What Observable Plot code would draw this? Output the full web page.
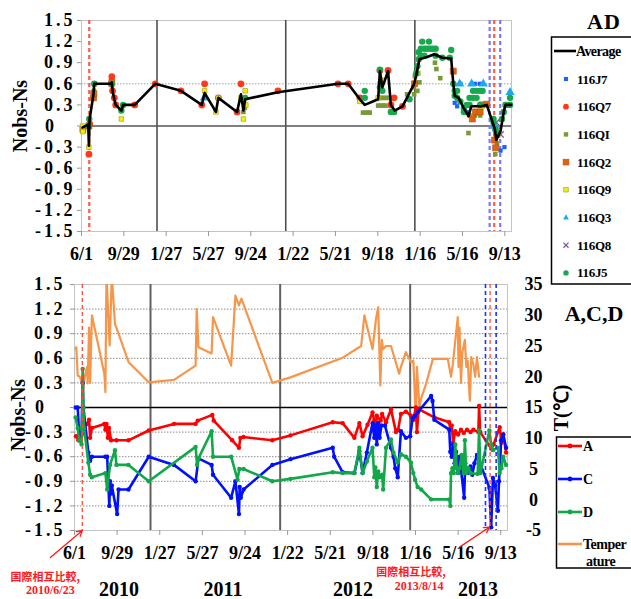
<!DOCTYPE html>
<html>
<head>
<meta charset="utf-8">
<script src="https://cdn.jsdelivr.net/npm/d3@7"></script>
<script src="https://cdn.jsdelivr.net/npm/@observablehq/plot@0.6"></script>
<style>
  body { margin: 0; background: #fff; }
  #wrap { position: relative; width: 631px; height: 599px; overflow: hidden; }
  #wrap > svg { position: absolute; left: 0; margin: 0; }
  #top { top: 0; }
  #bottom { top: 270px; }
  #top, #bottom { font-family: "Liberation Serif", "Times New Roman", serif; font-weight: bold; font-size: 18px; background: transparent; overflow: visible; }
  g[aria-label="y-axis tick label"][text-anchor="end"] text { letter-spacing: 3px; }
</style>
</head>
<body>
<div id="wrap"></div>
<script>
// ---- axis ticks -------------------------------------------------------
const xTickDates = ["2010-06-01","2010-09-29","2011-01-27","2011-05-27","2011-09-24","2012-01-22",
                    "2012-05-21","2012-09-18","2013-01-16","2013-05-16","2013-09-13"];
const yTicks = [1.5, 1.2, 0.9, 0.6, 0.3, 0, -0.3, -0.6, -0.9, -1.2, -1.5];
const tempTicks = [35, 30, 25, 20, 15, 10, 5, 0, -5];
const xDomain = ["2010-06-01", "2013-10-02"];

// ---- reference dates --------------------------------------------------
const yearStarts = ["2011-01-01", "2012-01-01", "2013-01-01"];
const compareDates = ["2010-06-23", "2013-08-14"];
const windowDates = ["2013-08-01", "2013-08-31"];
const yearLabels = [["2010-10-04","2010"],["2011-07-24","2011"],["2012-07-24","2012"],["2013-07-11","2013"]];

// ---- AD: average and per-instrument Nobs-Ns ---------------------------
const avgAD = [["2010-06-04",-0.02],["2010-06-20",0.02],["2010-06-22",-0.28],["2010-06-24",0.10],["2010-07-05",0.45],
  ["2010-07-07",0.60],["2010-08-24",0.60],["2010-08-26",0.62],["2010-08-28",0.50],["2010-09-02",0.38],["2010-09-06",0.30],
  ["2010-09-22",0.22],["2010-09-27",0.30],["2010-10-30",0.30],["2010-12-27",0.60],["2011-03-10",0.50],["2011-05-08",0.30],
  ["2011-05-16",0.47],["2011-06-17",0.20],["2011-06-24",0.40],["2011-08-16",0.20],["2011-08-27",0.45],["2011-09-03",0.22],
  ["2011-09-08",0.38],["2011-12-10",0.48],["2012-05-28",0.60],["2012-06-26",0.60],["2012-07-29",0.38],["2012-08-12",0.30],
  ["2012-09-19",0.38],["2012-09-24",0.78],["2012-10-01",0.55],["2012-10-17",0.78],["2012-10-25",0.30],["2012-11-05",0.22],
  ["2012-11-27",0.28],["2012-12-30",0.60],["2013-01-05",0.72],["2013-01-10",0.85],["2013-01-14",0.95],["2013-02-05",0.98],
  ["2013-02-25",1.02],["2013-03-20",0.97],["2013-04-14",0.96],["2013-04-20",0.60],["2013-04-24",0.43],["2013-05-05",0.40],
  ["2013-05-20",0.25],["2013-06-02",0.14],["2013-06-10",0.28],["2013-07-08",0.28],["2013-07-24",0.30],["2013-08-16",-0.05],
  ["2013-08-20",-0.20],["2013-09-01",-0.07],["2013-09-10",0.20],["2013-09-15",0.30],["2013-10-01",0.30]];

const s116J7 = [["2013-04-24",0.33],["2013-05-01",0.28],["2013-05-10",0.60],["2013-05-28",0.20],["2013-06-20",0.60],
  ["2013-07-04",0.60],["2013-08-15",-0.05],["2013-08-20",-0.30],["2013-09-01",-0.35],["2013-09-12",-0.30]];
const s116Q7 = [["2010-06-22",-0.40],["2010-06-24",0.03],["2010-08-24",0.60],["2010-08-26",0.70],["2010-08-28",0.50],
  ["2010-09-02",0.40],["2010-09-06",0.30],["2010-10-30",0.30],["2010-12-27",0.60],["2011-03-10",0.50],["2011-05-08",0.30],
  ["2011-05-16",0.60],["2011-06-24",0.40],["2011-08-16",0.20],["2011-08-27",0.60],["2011-12-10",0.50],["2012-05-28",0.60],
  ["2012-06-26",0.60],["2012-07-29",0.40],["2012-09-24",0.79],["2012-10-17",0.79],["2012-10-25",0.30],["2012-11-03",0.40],
  ["2012-11-27",0.28]];
const s116QI = [["2010-07-06",0.50],["2010-08-26",0.58],["2011-09-03",0.20],["2011-09-07",0.26],["2012-08-07",0.19],
  ["2012-08-14",0.19],["2012-08-21",0.19],["2012-08-26",0.19],["2012-09-19",0.29],["2012-09-19",0.40],["2012-09-26",0.29],
  ["2012-09-26",0.40],["2012-10-03",0.29],["2012-10-03",0.40],["2012-10-10",0.29],["2012-10-10",0.40],["2012-10-17",0.40],
  ["2012-10-25",0.20],["2012-11-05",0.20],["2012-12-10",0.45],["2012-12-28",0.55],["2012-12-30",0.45],["2013-01-01",0.71],
  ["2013-01-08",0.50],["2013-01-14",0.62],["2013-02-27",0.90],["2013-03-03",0.81],["2013-03-14",0.68],["2013-06-02",-0.10],
  ["2013-06-05",0.15],["2013-06-20",0.15],["2013-06-26",0.20],["2013-07-05",0.15],["2013-08-17",-0.40],["2013-08-22",-0.25]];
const s116Q2 = [["2010-06-05",-0.05],["2010-06-22",0.00],["2010-07-05",0.40],["2010-07-06",0.46],["2010-08-26",0.62],
  ["2012-12-31",0.60],["2013-04-20",0.78],["2013-06-13",0.10],["2013-06-22",0.20],["2013-07-05",0.20],["2013-07-10",0.30],
  ["2013-07-24",0.31],["2013-08-15",-0.20],["2013-08-18",-0.31],["2013-08-22",-0.12]];
const s116Q9 = [["2010-06-04",0.00],["2010-06-05",-0.08],["2010-06-22",-0.30],["2010-07-08",0.60],["2010-08-26",0.60],
  ["2010-09-22",0.10],["2011-05-16",0.50],["2011-06-17",0.20],["2011-06-24",0.40],["2011-08-27",0.40],["2011-09-03",0.10],
  ["2011-09-08",0.50],["2011-09-10",0.30],["2012-07-29",0.35],["2012-09-19",0.40],["2012-09-24",0.60],["2012-10-01",0.65],
  ["2013-01-10",0.75],["2013-07-08",0.28],["2013-09-15",0.30]];
const s116Q3 = [["2011-05-15",0.40],["2013-05-08",0.60],["2013-06-11",0.60],["2013-07-14",0.60],["2013-08-16",0.00],
  ["2013-09-28",0.48]];
const s116Q8 = [["2013-08-20",0.05],["2013-09-01",-0.12]];
const s116J5 = [["2010-06-22",0.00],["2010-06-23",0.10],["2010-07-07",0.60],["2010-08-26",0.60],["2010-09-22",0.22],
  ["2010-09-27",0.30],["2011-09-08",0.40],["2012-08-12",0.50],["2012-08-12",0.40],["2012-09-24",0.80],["2012-09-24",0.55],
  ["2012-10-01",0.50],["2012-10-25",0.20],["2012-11-03",0.20],["2012-12-17",0.38],["2013-01-05",0.75],["2013-01-08",0.85],
  ["2013-01-12",0.95],["2013-01-12",1.05],["2013-01-18",1.10],["2013-01-18",1.00],["2013-01-22",1.20],["2013-01-28",1.10],
  ["2013-01-28",1.00],["2013-02-03",1.10],["2013-02-10",1.10],["2013-02-10",1.20],["2013-02-16",1.10],["2013-02-22",1.10],
  ["2013-03-01",1.10],["2013-03-01",1.00],["2013-03-20",0.97],["2013-04-10",0.97],["2013-04-14",1.08],["2013-04-20",0.60],
  ["2013-04-24",0.43],["2013-04-24",0.50],["2013-05-01",0.40],["2013-05-01",0.50],["2013-05-10",0.35],["2013-05-20",0.20],
  ["2013-05-20",0.25],["2013-05-28",0.30],["2013-06-05",0.40],["2013-06-05",0.30],["2013-06-15",0.50],["2013-06-15",0.40],
  ["2013-06-25",0.50],["2013-06-25",0.40],["2013-07-05",0.50],["2013-07-05",0.30],["2013-07-12",0.50],["2013-08-12",0.10],
  ["2013-08-12",0.05],["2013-08-18",-0.05],["2013-08-24",-0.10],["2013-09-05",0.10],["2013-09-10",0.20],["2013-09-15",0.30],
  ["2013-09-20",0.30],["2013-09-28",0.30],["2013-09-28",0.40]];

// ---- A, C, D: Nobs-Ns and air temperature (°C) -------------------------
const seriesA = [["2010-06-05",-0.35],["2010-06-12",-0.40],["2010-06-20",-0.33],["2010-06-24",-0.30],["2010-07-06",-0.20],
  ["2010-07-12",-0.15],["2010-07-15",-0.37],["2010-07-20",-0.25],["2010-08-24",-0.20],["2010-08-27",-0.27],["2010-08-30",-0.20],
  ["2010-09-03",-0.37],["2010-09-06",-0.25],["2010-09-12",-0.40],["2010-09-27",-0.40],["2010-10-31",-0.40],["2010-12-27",-0.28],
  ["2011-03-08",-0.20],["2011-05-08",-0.20],["2011-05-14",-0.16],["2011-06-24",-0.09],["2011-06-28",-0.16],["2011-08-19",-0.40],
  ["2011-09-07",-0.49],["2011-09-11",-0.37],["2011-09-20",-0.36],["2011-12-10",-0.40],["2012-01-30",-0.34],["2012-05-28",-0.18],
  ["2012-06-25",-0.19],["2012-07-28",-0.37],["2012-08-11",-0.19],["2012-08-20",-0.35],["2012-09-03",-0.21],["2012-09-17",-0.06],
  ["2012-09-22",-0.16],["2012-09-27",-0.25],["2012-09-29",-0.10],["2012-10-10",-0.16],["2012-10-14",-0.08],["2012-10-25",-0.18],
  ["2012-11-08",-0.02],["2012-11-22",-0.30],["2012-11-28",-0.27],["2012-12-06",-0.08],["2012-12-20",-0.05],["2013-01-03",-0.10],
  ["2013-01-10",-0.15],["2013-01-17",0.00],["2013-01-20",-0.30],["2013-01-25",-0.02],["2013-03-10",-0.12],["2013-04-21",-0.18],
  ["2013-04-24",-0.27],["2013-04-28",-0.22],["2013-05-02",-0.43],["2013-05-08",-0.29],["2013-05-16",-0.33],["2013-05-24",-0.27],
  ["2013-06-01",-0.31],["2013-06-10",-0.27],["2013-06-20",-0.30],["2013-06-28",-0.27],["2013-07-12",-0.30],["2013-07-14",0.02],
  ["2013-07-17",-0.30],["2013-08-17",-0.50],["2013-08-24",-0.45],["2013-09-10",-0.24],["2013-09-15",-0.43],["2013-09-20",-0.33],
  ["2013-09-28",-0.55]];
const seriesC = [["2010-06-04",0.00],["2010-06-10",0.00],["2010-06-14",-0.33],["2010-06-21",-0.33],["2010-06-24",0.30],
  ["2010-06-26",0.00],["2010-07-10",-0.55],["2010-07-15",-0.65],["2010-07-20",-0.60],["2010-08-27",-0.60],["2010-09-01",-0.60],
  ["2010-09-04",-0.90],["2010-09-07",-1.20],["2010-09-09",-0.90],["2010-09-12",-1.05],["2010-09-14",-0.95],["2010-09-29",-1.30],
  ["2010-10-03",-1.00],["2010-10-31",-1.00],["2010-12-27",-0.60],["2011-03-08",-0.70],["2011-05-08",-0.90],["2011-05-16",-0.62],
  ["2011-06-22",-0.70],["2011-06-26",-0.82],["2011-08-16",-1.10],["2011-08-28",-0.90],["2011-09-07",-1.30],["2011-09-09",-0.97],
  ["2011-09-12",-1.10],["2011-09-20",-1.00],["2011-12-10",-0.70],["2012-01-30",-0.63],["2012-05-28",-0.49],["2012-06-01",-0.60],
  ["2012-06-25",-0.79],["2012-07-28",-0.80],["2012-08-11",-0.53],["2012-08-20",-0.80],["2012-09-01",-0.55],["2012-09-17",-0.19],
  ["2012-09-22",-0.37],["2012-09-25",-0.22],["2012-09-29",-0.45],["2012-10-03",-0.19],["2012-10-07",-0.37],["2012-10-12",-0.22],
  ["2012-10-22",-0.22],["2012-11-08",-0.49],["2012-11-15",-0.60],["2012-11-20",-0.74],["2012-11-27",-0.85],["2012-12-06",-0.29],
  ["2012-12-20",-0.37],["2013-01-01",-0.35],["2013-01-08",-0.13],["2013-01-15",-0.10],["2013-01-24",-0.05],["2013-03-01",0.14],
  ["2013-03-05",0.08],["2013-03-10",-0.15],["2013-04-21",-0.27],["2013-04-24",-0.54],["2013-04-28",-0.60],["2013-05-02",-0.45],
  ["2013-05-06",-0.68],["2013-05-10",-0.54],["2013-05-16",-0.80],["2013-05-20",-0.60],["2013-06-02",-1.10],["2013-06-05",-0.68],
  ["2013-06-12",-0.80],["2013-06-20",-0.72],["2013-06-25",-0.82],["2013-07-01",-0.68],["2013-07-08",-0.58],["2013-08-12",-0.98],
  ["2013-08-17",-1.46],["2013-08-22",-0.86],["2013-08-28",-0.95],["2013-09-05",-1.26],["2013-09-08",-0.90],["2013-09-11",-0.70],
  ["2013-09-14",-0.40],["2013-09-20",-0.33],["2013-09-28",-0.49]];
const seriesD = [["2010-06-04",-0.12],["2010-06-10",-0.25],["2010-06-14",-0.40],["2010-06-21",-0.45],["2010-06-22",-0.25],
  ["2010-06-24",0.47],["2010-06-26",0.00],["2010-06-28",-0.25],["2010-07-10",-0.67],["2010-07-15",-0.82],["2010-07-20",-0.85],
  ["2010-08-27",-0.80],["2010-09-01",-1.00],["2010-09-09",-0.70],["2010-09-23",-0.52],["2010-09-27",-0.70],["2010-10-31",-0.70],
  ["2010-12-27",-0.90],["2011-05-08",-0.48],["2011-05-12",-0.70],["2011-05-16",-0.62],["2011-06-22",-0.29],["2011-06-26",-0.60],
  ["2011-08-16",-0.60],["2011-09-03",-0.88],["2011-09-08",-0.75],["2011-09-20",-0.75],["2011-12-10",-0.90],["2012-01-30",-0.87],
  ["2012-05-28",-0.79],["2012-06-25",-0.80],["2012-07-28",-0.80],["2012-08-11",-0.49],["2012-08-20",-0.80],["2012-09-01",-0.66],
  ["2012-09-17",-0.49],["2012-09-22",-0.85],["2012-09-25",-0.73],["2012-09-29",-0.97],["2012-10-03",-0.78],["2012-10-07",-0.85],
  ["2012-10-14",-0.82],["2012-10-17",-1.00],["2012-10-25",-0.49],["2012-11-08",-0.39],["2012-11-15",-0.55],["2012-11-27",-0.67],
  ["2012-12-06",-0.57],["2012-12-20",-0.60],["2013-01-03",-0.67],["2013-01-10",-0.80],["2013-01-15",-0.88],["2013-01-22",-0.97],
  ["2013-02-01",-1.00],["2013-03-01",-1.12],["2013-04-21",-1.12],["2013-04-24",-1.20],["2013-04-26",-0.80],["2013-04-30",-0.74],
  ["2013-05-04",-0.80],["2013-05-08",-0.45],["2013-05-12",-0.74],["2013-05-16",-0.80],["2013-05-20",-0.74],["2013-05-26",-0.58],
  ["2013-06-01",-0.80],["2013-06-04",-0.40],["2013-06-08",-0.80],["2013-06-14",-0.74],["2013-06-20",-0.80],["2013-07-10",-0.81],
  ["2013-07-14",-0.28],["2013-07-18",-0.80],["2013-08-12",-0.28],["2013-08-17",-0.45],["2013-08-22",-0.52],["2013-09-05",-0.49],
  ["2013-09-10",-0.80],["2013-09-15",-0.74],["2013-09-20",-0.60],["2013-09-28",-0.70]];
const temperature = [["2010-06-04",24.5],["2010-06-06",24.8],["2010-06-10",20.2],["2010-06-16",20.0],["2010-06-22",18.9],
  ["2010-06-23",20.0],["2010-06-25",17.7],["2010-06-30",20.0],["2010-07-06",21.6],["2010-07-08",18.9],["2010-07-12",28.0],
  ["2010-07-15",19.0],["2010-07-20",30.0],["2010-08-24",20.5],["2010-08-27",17.5],["2010-08-30",36.5],["2010-09-08",25.1],
  ["2010-09-14",36.5],["2010-09-23",28.6],["2010-10-03",27.0],["2010-10-31",22.4],["2010-12-27",19.1],["2011-03-08",19.5],
  ["2011-05-08",21.8],["2011-05-11",31.0],["2011-05-16",24.8],["2011-06-22",23.8],["2011-06-26",29.7],["2011-08-16",21.8],
  ["2011-08-28",33.2],["2011-09-07",31.6],["2011-09-14",32.7],["2011-12-10",19.0],["2012-01-30",19.9],["2012-06-25",23.1],
  ["2012-08-16",25.0],["2012-08-25",30.0],["2012-09-17",24.5],["2012-09-27",29.5],["2012-10-03",31.3],["2012-10-09",18.6],
  ["2012-10-13",26.0],["2012-10-17",24.5],["2012-10-25",25.0],["2012-11-08",25.0],["2012-12-01",20.5],["2012-12-06",21.6],
  ["2012-12-20",24.0],["2013-01-03",22.4],["2013-01-10",22.6],["2013-01-17",12.9],["2013-01-20",21.6],["2013-01-27",15.0],
  ["2013-02-01",16.5],["2013-02-15",18.9],["2013-03-06",22.9],["2013-04-17",22.9],["2013-04-26",20.0],["2013-05-01",22.0],
  ["2013-05-15",29.7],["2013-05-17",21.6],["2013-05-20",28.0],["2013-05-24",19.0],["2013-05-28",24.0],["2013-06-04",26.0],
  ["2013-06-08",21.6],["2013-06-12",22.6],["2013-06-18",16.1],["2013-06-22",23.2],["2013-06-28",22.0],["2013-07-03",20.0],
  ["2013-07-08",23.2],["2013-07-14",20.0]];

// comparison notes: date, heading, date label; arrows: tail date, tail y, head date, head y
const notes = [["2010-06-23","国際相互比較,","2010/6/23"],["2013-08-14","国際相互比較,","2013/8/14"]];
const noteArrows = [["2010-03-25",-1.83,"2010-06-23",-1.5],["2013-05-21",-1.70,"2013-08-12",-1.46]];

// ---- helpers ------------------------------------------------------------
const day = s => new Date(s + "T00:00:00Z");
const rows = arr => arr.map(([d, v]) => ({date: day(d), value: v}));
const mdFormat = d => `${d.getUTCMonth() + 1}/${d.getUTCDate()}`;
const yFormat = v => v === 0 ? "0\u2007\u2009" : v.toFixed(1);
const tToY = t => (t - 15) * 3 / 40;         // temperature (right axis) onto the Nobs-Ns scale
const yToT = y => Math.round(y * 40 / 3 + 15);

const SERIF = "'Liberation Serif', 'Times New Roman', serif";
const CJK = "'Noto Sans CJK JP', sans-serif";

const topSeries = [
  {name: "116J7", data: s116J7, symbol: "square",   fill: "#2060ff", stroke: "none",    r: 2.4},
  {name: "116Q7", data: s116Q7, symbol: "circle",   fill: "#ff3a1a", stroke: "none",    r: 3.4},
  {name: "116QI", data: s116QI, symbol: "square",   fill: "#7a9a3a", stroke: "none",    r: 2.6},
  {name: "116Q2", data: s116Q2, symbol: "square",   fill: "#e0640c", stroke: "#b44e08", r: 3.4},
  {name: "116Q9", data: s116Q9, symbol: "square",   fill: "#f4ef00", stroke: "#9a9a10", r: 2.6},
  {name: "116Q3", data: s116Q3, symbol: "triangle", fill: "#1aaaf0", stroke: "none",    r: 3.4},
  {name: "116Q8", data: s116Q8, symbol: "times",    fill: "none",    stroke: "#8050b0", r: 3.0},
  {name: "116J5", data: s116J5, symbol: "circle",   fill: "#18a84e", stroke: "none",    r: 3.2}
];
const bottomSeries = [
  {name: "A", data: seriesA, color: "#ff0000"},
  {name: "C", data: seriesC, color: "#0010ff"},
  {name: "D", data: seriesD, color: "#10a848"}
];
const TEMP_COLOR = "#f7964a";
const NOTE_RED = "#ff1a1a";

const wrap = document.getElementById("wrap");

// ---- top panel: AD --------------------------------------------------------
const topPlot = Plot.plot({
  width: 631, height: 270,
  marginLeft: 81, marginRight: 120, marginTop: 20, marginBottom: 39,
  x: {type: "utc", domain: xDomain.map(day)},
  y: {domain: [-1.5, 1.5]},
  marks: [
    Plot.frame({stroke: "#c4c4c4"}),
    Plot.ruleY([0.6], {stroke: "#a0a0a0", strokeDasharray: "1.5,1.5"}),
    Plot.ruleY([0], {stroke: "#000", strokeWidth: 1.2}),
    Plot.ruleX(yearStarts.map(day), {stroke: "#505050", strokeWidth: 1.6}),
    Plot.ruleX(windowDates.map(day), {stroke: "#7a78ff", strokeWidth: 2.2, strokeDasharray: "4,3"}),
    Plot.ruleX(compareDates.map(day), {stroke: "#ff5a4a", strokeWidth: 2.2, strokeDasharray: "4,3"}),
    ...topSeries.map(s => Plot.dot(rows(s.data), {
      x: "date", y: "value", symbol: s.symbol, r: s.r, fill: s.fill, stroke: s.stroke, strokeWidth: s.symbol === "times" ? 1.4 : 0.6
    })),
    Plot.line(rows(avgAD), {x: "date", y: "value", stroke: "#000", strokeWidth: 2.6}),
    Plot.axisY({ticks: yTicks, tickFormat: yFormat, tickSize: 4, tickPadding: 2, stroke: "#999", label: null}),
    Plot.axisX({ticks: xTickDates.map(day), tickFormat: mdFormat, tickSize: 5, tickPadding: 11, stroke: "#999", label: null})
  ]
});
topPlot.id = "top";
wrap.appendChild(topPlot);

// ---- bottom panel: A, C, D and temperature -------------------------------
const noteText = (i, field, opts) => Plot.text([notes[i]], {
  x: d => day(d[0]), text: d => d[field], frameAnchor: "bottom", lineAnchor: "middle", fill: NOTE_RED, ...opts
});

const bottomPlot = Plot.plot({
  width: 631, height: 329,
  marginLeft: 74, marginRight: 124, marginTop: 14, marginBottom: 69,
  x: {type: "utc", domain: xDomain.map(day)},
  y: {domain: [-1.5, 1.5]},
  marks: [
    Plot.frame({stroke: "#c4c4c4"}),
    Plot.gridY(yTicks.filter(v => v !== 0 && Math.abs(v) !== 1.5), {stroke: "#8a8a8a", strokeOpacity: 1, strokeDasharray: "1.5,1.5"}),
    Plot.ruleX(yearStarts.map(day), {stroke: "#606060", strokeWidth: 2}),
    Plot.line(rows(temperature), {x: "date", y: d => tToY(d.value), stroke: TEMP_COLOR, strokeWidth: 2.2, clip: true}),
    Plot.ruleY([0], {stroke: "#000", strokeWidth: 1.6}),
    ...bottomSeries.flatMap(s => [
      Plot.line(rows(s.data), {x: "date", y: "value", stroke: s.color, strokeWidth: 2.6}),
      Plot.dot(rows(s.data), {x: "date", y: "value", r: 2.2, fill: s.color})
    ]),
    Plot.ruleX(windowDates.map(day), {stroke: "#1a30ff", strokeWidth: 1.6, strokeDasharray: "4,3"}),
    Plot.ruleX(compareDates.map(day), {stroke: "#ff4a3a", strokeWidth: 1.3, strokeDasharray: "4,3"}),
    Plot.axisY({ticks: yTicks, tickFormat: yFormat, tickSize: 4, tickPadding: 5, stroke: "#999", label: null}),
    Plot.axisY({anchor: "right", ticks: tempTicks.map(tToY), tickFormat: yToT, tickSize: 0, tickPadding: 26, textAnchor: "middle", label: null}),
    Plot.axisX({ticks: xTickDates.map(day), tickFormat: mdFormat, tickSize: 5, tickPadding: 11, stroke: "#999", label: null}),
    Plot.text(yearLabels, {x: d => day(d[0]), text: d => d[1], frameAnchor: "bottom", dy: 59, fontSize: 20, lineAnchor: "middle"}),
    Plot.arrow(noteArrows, {x1: d => day(d[0]), y1: d => d[1], x2: d => day(d[2]), y2: d => d[3],
      stroke: NOTE_RED, strokeWidth: 1.3, headLength: 7, bend: 0}),
    noteText(0, 1, {dx: -37, dy: 47, fontFamily: CJK, fontWeight: "bold", fontSize: 11}),
    noteText(0, 2, {dx: -32, dy: 60, fontSize: 12}),
    noteText(1, 1, {dx: -79, dy: 42, fontFamily: CJK, fontWeight: "bold", fontSize: 11}),
    noteText(1, 2, {dx: -71, dy: 56, fontSize: 12})
  ]
});
bottomPlot.id = "bottom";
wrap.appendChild(bottomPlot);

// ---- titles, axis labels and legends ------------------------------------
const over = d3.select(wrap).append("svg")
  .attr("width", 631).attr("height", 599)
  .style("top", "0px").style("pointer-events", "none")
  .attr("font-family", SERIF).attr("font-weight", "bold");

const vlabel = (x, y, text, size) => over.append("text")
  .attr("transform", `translate(${x},${y}) rotate(-90)`)
  .attr("text-anchor", "middle").attr("dominant-baseline", "central")
  .attr("font-size", size).text(text);
vlabel(20, 116, "Nobs-Ns", 20);
vlabel(18, 415, "Nobs-Ns", 20);
vlabel(561, 408, "T(℃)", 20);

over.append("text").attr("x", 604).attr("y", 29).attr("text-anchor", "middle").attr("font-size", 22).attr("letter-spacing", 1).text("AD");
over.append("text").attr("x", 594).attr("y", 321).attr("text-anchor", "middle").attr("font-size", 22).text("A,C,D");

// AD legend
over.append("rect").attr("x", 551.5).attr("y", 37).attr("width", 100).attr("height", 247)
  .attr("fill", "none").attr("stroke", "#000").attr("stroke-width", 1.5);
over.append("line").attr("x1", 554).attr("x2", 576).attr("y1", 51).attr("y2", 51).attr("stroke", "#000").attr("stroke-width", 2.6);
over.append("text").attr("x", 576).attr("y", 55.5).attr("font-size", 14).attr("letter-spacing", -0.6).text("Average");
topSeries.forEach((s, i) => {
  const y = 79 + i * 27.7, x = 566;
  const g = over.append("g").attr("transform", `translate(${x},${y})`);
  const r = s.r * 0.85;
  if (s.symbol === "circle") g.append("circle").attr("r", r).attr("fill", s.fill);
  else if (s.symbol === "square") g.append("rect").attr("x", -r).attr("y", -r).attr("width", 2 * r).attr("height", 2 * r)
    .attr("fill", s.fill).attr("stroke", s.stroke === "none" ? null : s.stroke).attr("stroke-width", 0.6);
  else if (s.symbol === "triangle") g.append("path").attr("d", `M0,${-r * 1.1}L${r},${r * 0.7}L${-r},${r * 0.7}Z`).attr("fill", s.fill);
  else g.append("path").attr("d", `M${-r},${-r}L${r},${r}M${-r},${r}L${r},${-r}`).attr("stroke", s.stroke).attr("stroke-width", 1.2);
  over.append("text").attr("x", 577).attr("y", y + 4.5).attr("font-size", 13).attr("letter-spacing", -0.3).text(s.name);
});

// A,C,D legend
over.append("rect").attr("x", 556.5).attr("y", 437).attr("width", 100).attr("height", 131)
  .attr("fill", "none").attr("stroke", "#000").attr("stroke-width", 1.5);
bottomSeries.forEach((s, i) => {
  const y = 446 + i * 33;
  over.append("line").attr("x1", 558).attr("x2", 582).attr("y1", y).attr("y2", y).attr("stroke", s.color).attr("stroke-width", 2.6);
  over.append("circle").attr("cx", 570).attr("cy", y).attr("r", 2.4).attr("fill", s.color);
  over.append("text").attr("x", 583).attr("y", y + 5).attr("font-size", 14).text(s.name);
});
over.append("line").attr("x1", 558).attr("x2", 582).attr("y1", 544).attr("y2", 544).attr("stroke", TEMP_COLOR).attr("stroke-width", 2.6);
over.append("text").attr("x", 583).attr("y", 549).attr("font-size", 14).attr("letter-spacing", -0.5).text("Temper");
over.append("text").attr("x", 586).attr("y", 566).attr("font-size", 14).attr("letter-spacing", -0.5).text("ature");
</script>
</body>
</html>
